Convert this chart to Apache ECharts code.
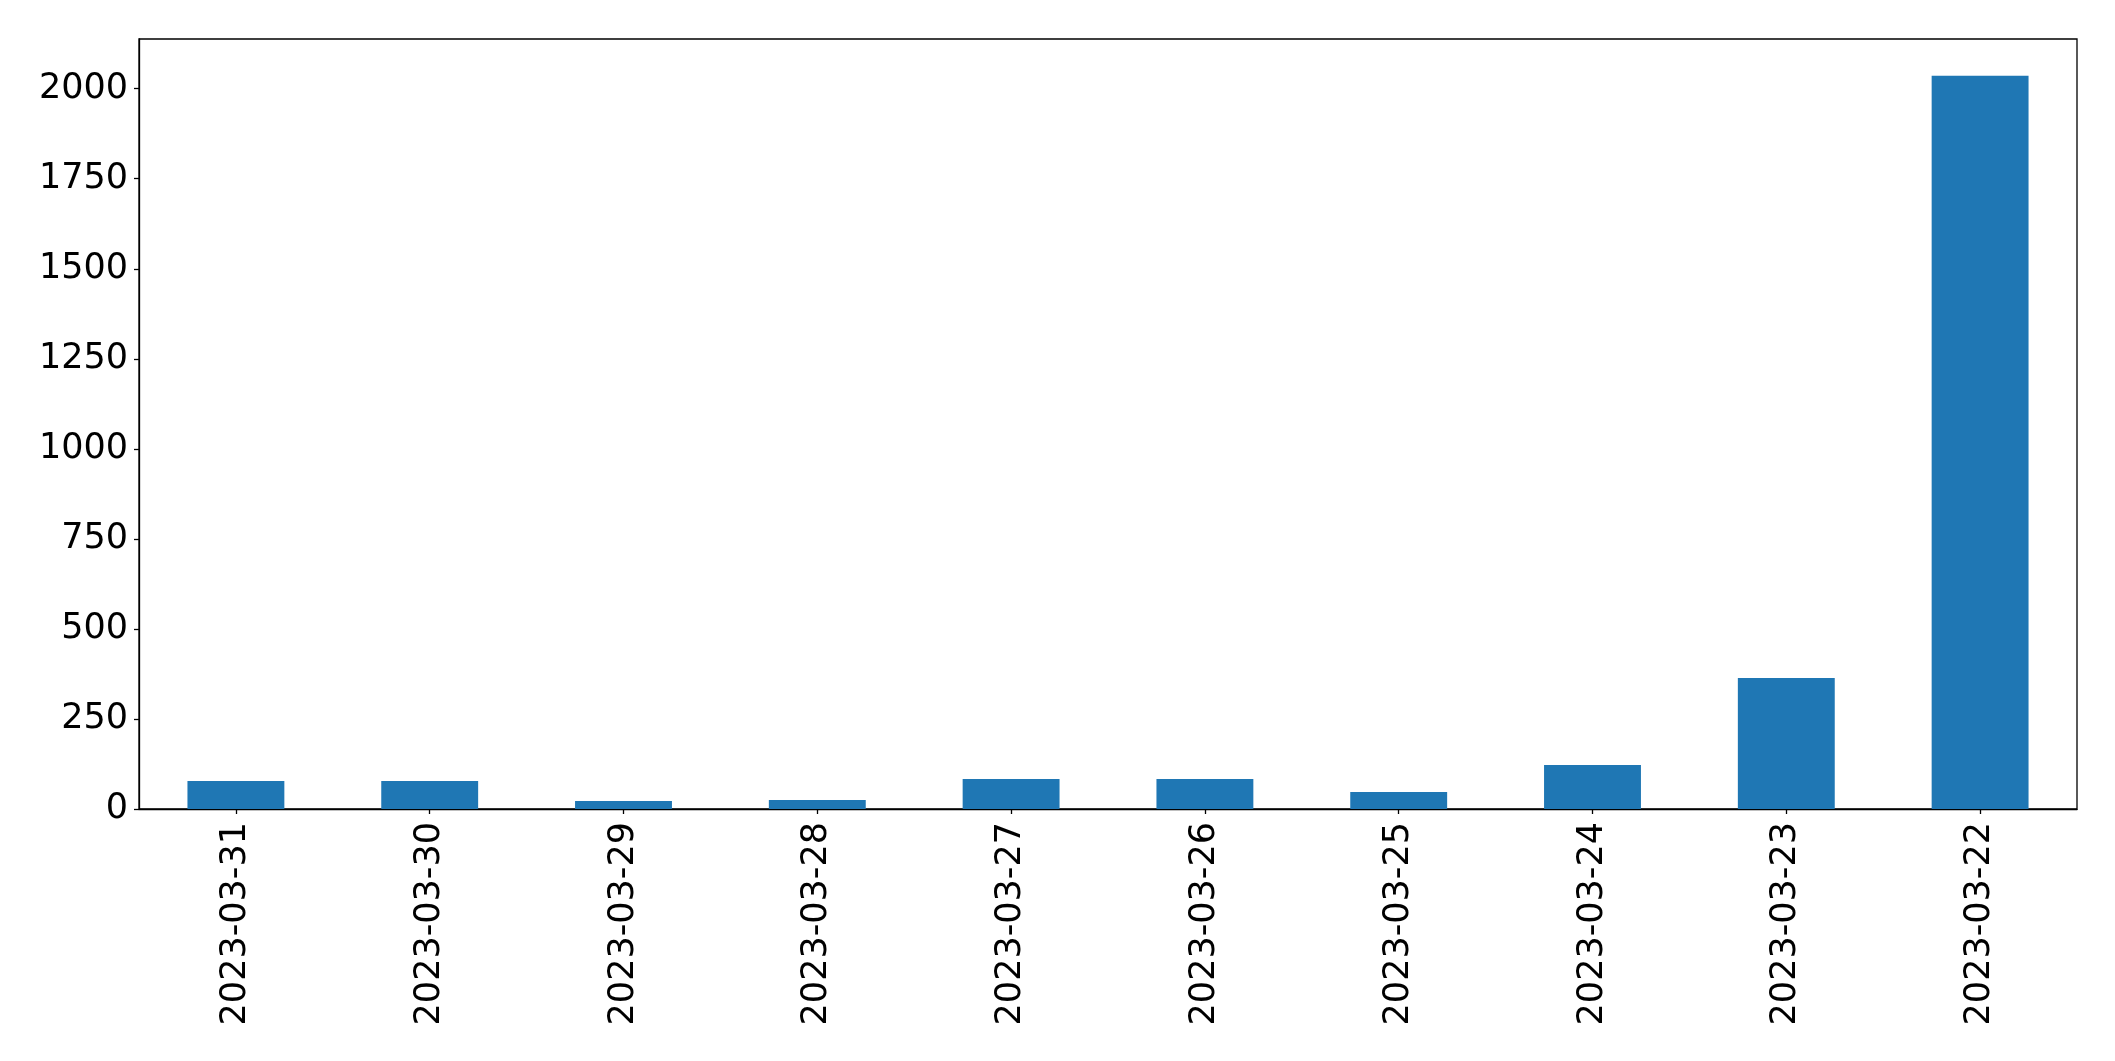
<!DOCTYPE html>
<html>
<head>
<meta charset="utf-8">
<script src="https://cdn.jsdelivr.net/npm/echarts@6/dist/echarts.min.js"></script>
<style>
html,body{margin:0;padding:0;background:#fff;}
#chart{width:2115px;height:1061px;}
</style>
</head>
<body>
<div id="chart"></div>
<script>
const categories = ["2023-03-31","2023-03-30","2023-03-29","2023-03-28","2023-03-27","2023-03-26","2023-03-25","2023-03-24","2023-03-23","2023-03-22"];
const values = [78, 78, 22, 25, 83, 83, 47, 122, 364, 2036];
const yTicks = [0, 250, 500, 750, 1000, 1250, 1500, 1750, 2000];
const yMax = 2138;

const font = "DejaVu Sans";
const chart = echarts.init(document.getElementById('chart'), null, {renderer: 'canvas'});
chart.setOption({
  animation: false,
  backgroundColor: '#ffffff',
  grid: {
    left: 139, right: 38, top: 39, bottom: 252,
    show: true, borderColor: '#000', borderWidth: 1.3, backgroundColor: 'transparent',
    containLabel: false
  },
  xAxis: {
    type: 'category',
    data: categories,
    boundaryGap: true,
    axisLine: {show: true, lineStyle: {color: '#000', width: 1.3}},
    axisTick: {show: true, alignWithLabel: true, length: 5, lineStyle: {color: '#000', width: 1.3}},
    axisLabel: {rotate: 90, color: '#000', fontFamily: font, fontSize: 35, margin: 13, interval: 0},
    splitLine: {show: false}
  },
  yAxis: {
    type: 'value',
    min: 0, max: yMax, interval: 250,
    axisLine: {show: true, lineStyle: {color: '#000', width: 1.3}},
    axisTick: {show: true, length: 5, lineStyle: {color: '#000', width: 1.3}, customValues: yTicks},
    axisLabel: {color: '#000', fontFamily: font, fontSize: 35, margin: 11, customValues: yTicks,
      padding: [7, 0, 0, 0],
      formatter: function (v) { return String(v); }},
    splitLine: {show: false}
  },
  series: [{
    type: 'bar',
    data: values,
    barWidth: '50%',
    itemStyle: {color: '#1f77b4'}
  }]
});
</script>
</body>
</html>
